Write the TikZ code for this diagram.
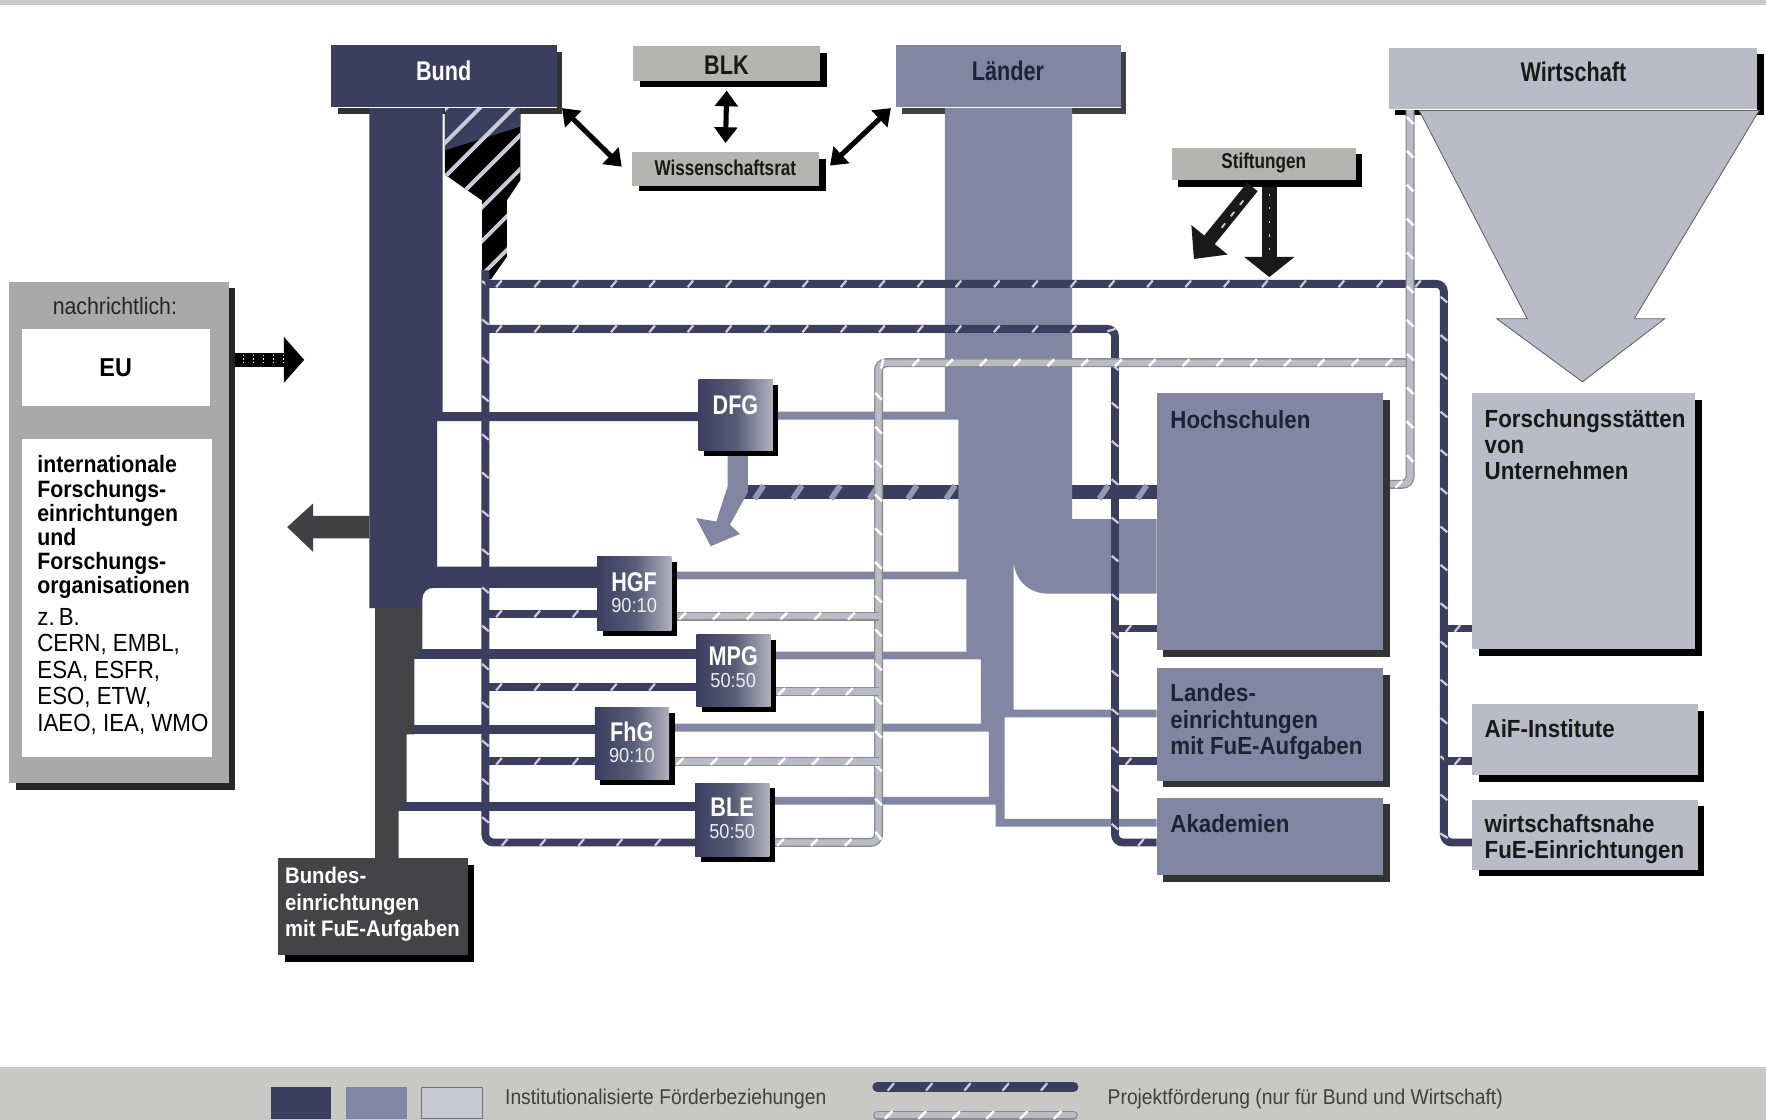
\documentclass[tikz,border=0pt]{standalone}
\usepackage{fontspec}
\setmainfont{Liberation Sans}[FakeStretch=0.9]
\newfontfamily\hdr{Liberation Sans}[FakeStretch=0.8]
\usetikzlibrary{decorations.markings,arrows.meta}
\definecolor{navy}{HTML}{3B3E5E}
\definecolor{slate}{HTML}{8286A3}
\definecolor{lightw}{HTML}{B9BCC6}
\definecolor{boxgray}{HTML}{B4B4B1}
\definecolor{dgray}{HTML}{444446}
\definecolor{panelgray}{HTML}{A9A9A9}
\definecolor{bandgray}{HTML}{C8C8C4}
\definecolor{txtnavy}{HTML}{1F2136}
\definecolor{hatchlight}{HTML}{C9CBD8}
\tikzset{
 pbox/.style={draw=none, inner sep=0pt, anchor=north west},
 projb/.style={draw=navy, line width=7pt, rounded corners=7pt,
   postaction={decorate, decoration={markings, mark=between positions 12pt and -6pt step 34pt with {\draw[hatchlight, line width=2pt] (-2.5pt,-3pt)--(2.5pt,3pt);}}}},
 projw/.style={draw=black!45, line width=8pt, rounded corners=7pt,
   postaction={draw=lightw, line width=5.6pt},
   postaction={decorate, decoration={markings, mark=between positions 10pt and -6pt step 30pt with {\draw[white, line width=2.2pt] (-3pt,-3pt)--(3pt,3pt);}}}},
 bandb/.style={draw=navy, line width=12pt,
   postaction={decorate, decoration={markings, mark=between positions 14pt and -4pt step 34pt with {\draw[slate!85!white, line width=5pt] (-4pt,-6pt)--(4pt,6pt);}}}},
 dbl/.style={line width=4.5pt, {Triangle[length=14pt,width=20pt]}-{Triangle[length=14pt,width=20pt]}},
 org/.style={pbox, left color=navy, right color=navy!40!white, middle color=navy!85!white, minimum width=66pt, minimum height=64pt},
 orgname/.style={font=\hdr\bfseries\fontsize{24}{24}\selectfont, text=white},
 orgratio/.style={font=\fontsize{18}{18}\selectfont, text=white!85!gray},
 hdrtext/.style={font=\hdr\bfseries\fontsize{24}{24}\selectfont},
 boxtext/.style={anchor=north west, align=left, inner sep=0pt, font=\bfseries\fontsize{22}{23.5}\selectfont},
}
\begin{document}
\begin{tikzpicture}[x=1pt,y=-1pt]
\useasboundingbox (0,0) rectangle (1568,994);
\fill[white] (0,0) rectangle (1568,994);
\fill[bandgray] (0,0) rectangle (1568,4);
\fill[bandgray] (0,947) rectangle (1568,994);

% ---------- left panel
\fill[black!85] (14,256) rectangle (209,701);
\node[pbox, fill=panelgray, minimum width=195pt, minimum height=445pt] (panel) at (8,250) {};
\node[pbox, fill=white, minimum width=167pt, minimum height=68pt] (eu) at (19,292) {};
\node[pbox, fill=white, minimum width=169pt, minimum height=282pt] (intl) at (19,390) {};
\node[font=\fontsize{21}{21}\selectfont, text=black!85] (tnach) at (102,272) {nachrichtlich:};
\node[font=\bfseries\fontsize{23}{23}\selectfont] (teu) at (eu.center) {EU};
\node[anchor=north west, align=left, inner sep=0pt, font=\bfseries\fontsize{21}{21.4}\selectfont] (tint) at (33,404.5) {internationale\\Forschungs-\\einrichtungen\\und\\Forschungs-\\organisationen};
\node[anchor=north west, align=left, inner sep=0pt, font=\fontsize{22}{23.5}\selectfont] (tzb) at (33,540) {z.\,B.\\CERN, EMBL,\\ESA, ESFR,\\ESO, ETW,\\IAEO, IEA, WMO};

% EU arrow
\fill[black] (209,313) rectangle (254,326);
\fill[black] (252,299) -- (270,319.5) -- (252,340) -- cycle;
\foreach \xx in {216,225,234,243,252}
  \draw[white, line width=1pt, dash pattern=on 1.5pt off 1.5pt] (\xx,315) -- (\xx,324);

% ---------- header boxes
\fill[black!80] (300,46) rectangle (499,101);
\node[pbox, fill=navy, minimum width=200pt, minimum height=55pt] (bund) at (294,40) {};
\fill[black!75] (801,46) rectangle (1000,101);
\node[pbox, fill=slate, minimum width=200pt, minimum height=55pt] (laender) at (795,40) {};
\fill[black] (1239,48) rectangle (1566,102);
\node[pbox, fill=lightw, minimum width=327pt, minimum height=55pt] (wirt) at (1233,42) {};

% DFG project band (behind Laender trunk)
\draw[bandb] (660,437) -- (1027,437);

% ---------- Laender trunk
\fill[slate] (839,95) -- (952,95) -- (952,461) -- (1027,461) -- (1027,527) -- (930,527)
  .. controls (913,527) and (900,514) .. (900,497) -- (900,630) -- (1027,630) -- (1027,637)
  -- (892,637) -- (892,727) -- (1027,727) -- (1027,734) -- (884,734) -- (884,714.5)
  -- (683,714.5) -- (683,707.5) -- (878,707.5) -- (878,649.5) -- (594,649.5) -- (594,642.5)
  -- (871,642.5) -- (871,585.5) -- (684,585.5) -- (684,578.5) -- (858,578.5) -- (858,514.5)
  -- (596,514.5) -- (596,507.5) -- (851,507.5) -- (851,372.5) -- (686,372.5) -- (686,365.5)
  -- (839,365.5) -- cycle;

% ---------- Bund trunk
\fill[navy] (328,95) -- (393,95) -- (393,366) -- (620,366) -- (620,374) -- (388,374)
  -- (388,503) -- (530,503) -- (530,522) -- (385,522) .. controls (379,522) and (375,526) .. (375,532)
  -- (375,540) -- (328,540) -- cycle;
\fill[dgray!95!black] (328,458) -- (278,458) -- (278,447) -- (255,468) -- (278,490) -- (278,478) -- (328,478) -- cycle;
\fill[dgray] (333,540) -- (375,540) -- (375,585) -- (368,585) -- (368,652) -- (361,652) -- (361,720)
  -- (354,720) -- (354,762) -- (333,762) -- cycle;
\fill[navy] (372,576) rectangle (618,585);
\fill[navy] (365,644) rectangle (528,652);
\fill[navy] (358,712) rectangle (617,720);

% hatched diagonal stripe
\begin{scope}
\clip (395,95) -- (462,95) -- (462,160) -- (450,178) -- (450,228) -- (436,248) -- (428,248) -- (428,178) -- (395,155) -- cycle;
\fill[black] (390,90) rectangle (470,250);
\fill[navy] (390,90) -- (470,90) -- (470,110) -- (390,135) -- cycle;
\foreach \k in {0,...,9} \draw[line width=3.5pt, hatchlight] (380,{112+30*\k}) -- ++(110,-110);
\end{scope}

% ---------- Bund project lines
\draw[projb] (431,240) -- (431,748) -- (617,748);
\draw[projb] (431,252) -- (1282,252) -- (1282,748) -- (1307,748);
\draw[projb] (431,292) -- (990,292) -- (990,748) -- (1027,748);
\draw[projb] (990,558) -- (1027,558);
\draw[projb] (990,676) -- (1027,676);
\draw[projb] (1282,558) -- (1307,558);
\draw[projb] (1282,676) -- (1307,676);
\draw[projb] (431,545) -- (530,545);
\draw[projb] (431,610) -- (618,610);
\draw[projb] (431,676) -- (528,676);

% ---------- Wirtschaft project lines
\draw[projw] (683,748) -- (780,748) -- (780,322) -- (1252,322);
\draw[projw] (1252,97) -- (1252,430) -- (1228,430);
\draw[projw] (596,547) -- (780,547);
\draw[projw] (684,614) -- (780,614);
\draw[projw] (594,676) -- (780,676);

% Wirtschaft triangle arrow
\filldraw[fill=lightw, draw=black!60, line width=0.8pt] (1260,98) -- (1356,283) -- (1329,283) -- (1405,339) -- (1478,283) -- (1451,283) -- (1562,98) -- cycle;
\draw[white, line width=1.3pt] (bund.south west) -- (bund.south east);
\draw[white, line width=1.3pt] (laender.south west) -- (laender.south east);
\draw[white, line width=1.3pt] (wirt.south west) -- (wirt.south east);

% DFG arrow
\fill[slate] (646,400) -- (664,400) -- (664,437) -- (648,466) -- (657,474) -- (631,485) -- (618,460) -- (636,463) -- (646,432) -- cycle;

% ---------- BLK / Wissenschaftsrat / Stiftungen
\fill[black] (568,47) rectangle (734,77);
\node[pbox, fill=boxgray, minimum width=166pt, minimum height=31pt] (blk) at (562,41) {};
\fill[black] (567,141) rectangle (733,170);
\node[pbox, fill=boxgray, minimum width=166pt, minimum height=30pt] (wiss) at (561,135) {};
\fill[black] (1046,137) rectangle (1209,166);
\node[pbox, fill=boxgray, minimum width=164pt, minimum height=29pt] (stift) at (1040,131) {};

\node[hdrtext, text=black!90] (tblk) at (645,58) {BLK};
\node[font=\hdr\bfseries\fontsize{19}{19}\selectfont, text=black!90] (twiss) at (644,149) {Wissenschaftsrat};
\node[font=\hdr\bfseries\fontsize{19}{19}\selectfont, text=black!90] (tstift) at (1122,145) {Stiftungen};
\node[hdrtext, text=white] (tbund) at (394,63) {Bund};
\node[hdrtext, text=txtnavy] (tlaender) at (895,63) {Länder};
\node[hdrtext, text=black!90] (twirt) at (1397,64) {Wirtschaft};

\draw[dbl] ([yshift=-8pt]blk.south) -- ([yshift=8pt]wiss.north);
\coordinate (bw1) at (499,96);
\coordinate (bw2) at (552,148);
\draw[dbl] (bw1) -- (bw2);
\coordinate (lw1) at (737,147);
\coordinate (lw2) at (791,96);
\draw[dbl] (lw1) -- (lw2);

% Stiftungen arrows
\coordinate (st1) at (1127,166);
\coordinate (st2) at (1127,246);
\coordinate (st3) at (1112,166);
\coordinate (st4) at (1060,230);
\draw[line width=12pt, black!90, -{Triangle[length=22pt,width=40pt]}] (st3) -- (st4);
\draw[hatchlight, line width=1.6pt, dash pattern=on 5pt off 8pt] (1104,178) -- (1080,208);
\draw[line width=13pt, black!90, -{Triangle[length=18pt,width=44pt]}] (st1) -- (st2);
\draw[hatchlight, line width=1.4pt, dash pattern=on 2pt off 10pt] (1127,172) -- (1127,226);

% ---------- organisation boxes
\fill[black] (625,342) rectangle (691,405);
\node[org, minimum height=63pt] (dfg) at (620,337) {};
\fill[black] (535,499) rectangle (601,565);
\node[org, minimum height=66pt] (hgf) at (530,494) {};
\fill[black] (623,568) rectangle (689,632);
\node[org] (mpg) at (618,563) {};
\fill[black] (533,633) rectangle (599,697);
\node[org] (fhg) at (528,628) {};
\fill[black] (622,700) rectangle (688,765);
\node[org, minimum height=65pt] (ble) at (617,695) {};

\node[orgname] (tdfg) at (653,360) {DFG};
\node[orgname] (thgf) at (563,517) {HGF};
\node[orgratio] (rhgf) at (563,538) {90:10};
\node[orgname] (tmpg) at (651,583) {MPG};
\node[orgratio] (rmpg) at (651,604) {50:50};
\node[orgname] (tfhg) at (561,650) {FhG};
\node[orgratio] (rfhg) at (561,671) {90:10};
\node[orgname] (tble) at (650,717) {BLE};
\node[orgratio] (rble) at (650,738) {50:50};

% ---------- Laender targets
\fill[black!80] (1033,355) rectangle (1234,583);
\node[pbox, fill=slate, minimum width=201pt, minimum height=228pt] (hs) at (1027,349) {};
\fill[black!80] (1033,599) rectangle (1234,699);
\node[pbox, fill=slate, minimum width=201pt, minimum height=100pt] (le) at (1027,593) {};
\fill[black!80] (1033,714) rectangle (1234,783);
\node[pbox, fill=slate, minimum width=201pt, minimum height=69pt] (ak) at (1027,708) {};
\node[boxtext, text=txtnavy] (ths) at (1039,364) {Hochschulen};
\node[boxtext, text=txtnavy] (tle) at (1039,607) {Landes-\\einrichtungen\\mit FuE-Aufgaben};
\node[boxtext, text=txtnavy] (tak) at (1039,723) {Akademien};

% ---------- Wirtschaft targets
\fill[black] (1313,355) rectangle (1511,582);
\node[pbox, fill=lightw, minimum width=198pt, minimum height=227pt] (fs) at (1307,349) {};
\fill[black] (1313,631) rectangle (1513,694);
\node[pbox, fill=lightw, minimum width=200pt, minimum height=63pt] (aif) at (1307,625) {};
\fill[black] (1313,716) rectangle (1513,778);
\node[pbox, fill=lightw, minimum width=200pt, minimum height=62pt] (wfe) at (1307,710) {};
\node[boxtext, text=black!90] (tfs) at (1318,363) {Forschungsstätten\\von\\Unternehmen};
\node[boxtext, text=black!90] (taif) at (1318,639) {AiF-Institute};
\node[boxtext, text=black!90] (twfe) at (1318,723) {wirtschaftsnahe\\FuE-Einrichtungen};

% ---------- Bundeseinrichtungen
\fill[black] (253,768) rectangle (421,854);
\node[pbox, fill=dgray, minimum width=168pt, minimum height=86pt] (be) at (247,762) {};
\node[anchor=north west, align=left, inner sep=0pt, text=white, font=\bfseries\fontsize{20}{23.5}\selectfont] (tbe) at (253,770) {Bundes-\\einrichtungen\\mit FuE-Aufgaben};

% ---------- legend
\node[pbox, fill=navy, minimum width=54pt, minimum height=28pt] (sw1) at (240,965) {};
\node[pbox, fill=slate, minimum width=54pt, minimum height=28pt] (sw2) at (307,965) {};
\node[pbox, fill=lightw!80!white, draw=black!55, line width=0.8pt, minimum width=54pt, minimum height=28pt] (sw3) at (374,965) {};
\node[anchor=west, font=\fontsize{19}{19}\selectfont, text=black!75] (tl1) at (445,976) {Institutionalisierte Förderbeziehungen};
\draw[projb, line width=9pt, line cap=round] (779,965) -- (953,965);
\draw[projw, line cap=round] (779,990) -- (953,990);
\node[anchor=west, font=\fontsize{19}{19}\selectfont, text=black!75] (tl2) at (980,976) {Projektförderung (nur für Bund und Wirtschaft)};
\end{tikzpicture}
\end{document}
